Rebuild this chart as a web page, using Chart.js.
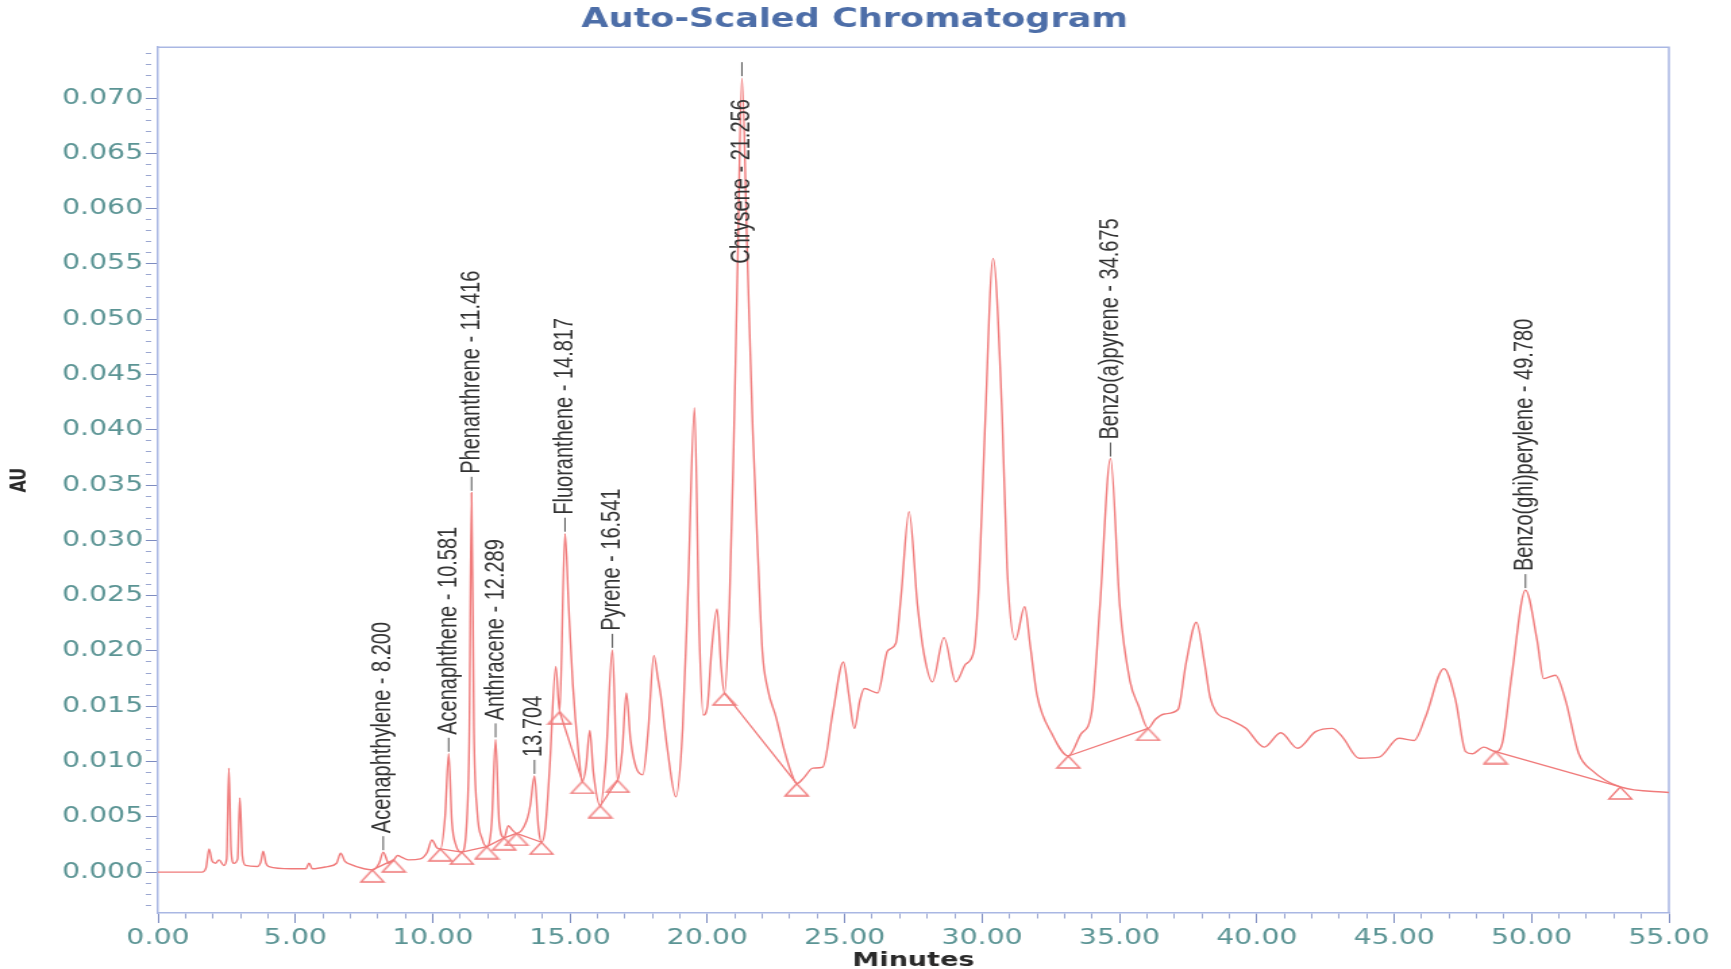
<!DOCTYPE html>
<html>
<head>
<meta charset="utf-8">
<title>Auto-Scaled Chromatogram</title>
<script src="https://cdn.jsdelivr.net/npm/chart.js@4.4.1/dist/chart.umd.min.js"></script>
<style>
  html, body { margin: 0; padding: 0; background: #fff; overflow: hidden; }
</style>
</head>
<body>
<!-- the printout is stretched sideways, so the canvas is drawn narrow and shown wide -->
<canvas id="chart" width="1282" height="969" style="display:block;width:1731px;height:969px"></canvas>
<script>
// retention time (minutes) and absorbance (AU)
const times = [0, 1.6, 1.75, 1.86, 1.97, 2.09, 2.22, 2.4, 2.5, 2.58, 2.66, 2.76, 2.9, 2.98, 3.07, 3.19, 3.61, 3.74, 3.83, 3.93,
  4.04, 4.83, 5.38, 5.5, 5.62, 6.17, 6.5, 6.65, 6.8, 7.01, 7.5, 7.8, 8.05, 8.2, 8.4, 8.58, 8.72, 8.9, 9.13, 9.55,
  9.8, 9.97, 10.15, 10.28, 10.45, 10.581, 10.7, 10.85, 11.06, 11.25, 11.33, 11.416, 11.5, 11.62, 11.8, 11.97, 12.15, 12.289, 12.42, 12.6,
  12.75, 12.9, 13.05, 13.41, 13.55, 13.704, 13.85, 13.96, 14.1, 14.26, 14.48, 14.62, 14.817, 14.95, 15.1, 15.3, 15.45, 15.58, 15.72, 15.85,
  16.1, 16.3, 16.541, 16.73, 16.9, 17.05, 17.2, 17.4, 17.65, 17.85, 18.05, 18.2, 18.3, 18.55, 18.85, 19.1, 19.3, 19.53, 19.7, 19.85,
  20.0, 20.15, 20.35, 20.5, 20.62, 20.8, 20.95, 21.1, 21.256, 21.45, 21.65, 21.85, 22.0, 22.2, 22.5, 22.8, 23.05, 23.25, 23.5, 23.84,
  24.2, 24.57, 24.95, 25.15, 25.35, 25.55, 25.71, 26.2, 26.56, 26.86, 27.05, 27.34, 27.65, 27.9, 28.19, 28.61, 29.04, 29.4, 29.7, 29.88,
  30.1, 30.4, 30.73, 30.91, 31.21, 31.55, 31.75, 32.0, 32.54, 33.14, 33.6, 33.99, 34.29, 34.675, 35.01, 35.38, 35.7, 36.04, 36.3, 36.64,
  37.13, 37.43, 37.8, 38.09, 38.3, 38.51, 39.0, 39.6, 40.27, 40.87, 41.48, 42.14, 42.75, 43.12, 43.72, 44.45, 45.17, 45.72, 46.15, 46.81,
  47.23, 47.6, 47.84, 48.26, 48.69, 48.93, 49.29, 49.78, 50.2, 50.44, 50.87, 51.23, 51.72, 52.2, 53.23, 55];
const absorb = [0, 0, 0.0004, 0.0021, 0.0010, 0.0008, 0.0011, 0.0006, 0.0012, 0.0094, 0.0020, 0.0008, 0.0012, 0.0067, 0.0015, 0.0006, 0.0005, 0.0009, 0.0019, 0.0008,
  0.0005, 0.0003, 0.0003, 0.0008, 0.0003, 0.0005, 0.0008, 0.0017, 0.0010, 0.0007, 0.0003, 0.0002, 0.0008, 0.0018, 0.0008, 0.0011, 0.0015, 0.0013, 0.0011, 0.0012,
  0.0018, 0.0029, 0.0022, 0.0021, 0.0050, 0.0107, 0.0045, 0.0024, 0.0018, 0.0050, 0.0120, 0.0343, 0.0130, 0.0055, 0.0030, 0.0023, 0.0045, 0.0120, 0.0045, 0.0031,
  0.0042, 0.0038, 0.0035, 0.0046, 0.0060, 0.0087, 0.0040, 0.0027, 0.0040, 0.0095, 0.0186, 0.0145, 0.0306, 0.0240, 0.0170, 0.0110, 0.0082, 0.0095, 0.0128, 0.0090,
  0.0060, 0.0100, 0.0201, 0.0083, 0.0110, 0.0162, 0.0120, 0.0095, 0.0088, 0.0130, 0.0196, 0.0175, 0.0160, 0.0110, 0.0068, 0.0130, 0.0260, 0.0420, 0.0220, 0.0142,
  0.0150, 0.0200, 0.0238, 0.0185, 0.0162, 0.0240, 0.0380, 0.0550, 0.0718, 0.0560, 0.0400, 0.0280, 0.0200, 0.0165, 0.0140, 0.0110, 0.0090, 0.0080, 0.0085, 0.0094,
  0.0095, 0.0145, 0.0190, 0.0160, 0.0130, 0.0155, 0.0166, 0.0162, 0.0200, 0.0207, 0.0250, 0.0326, 0.0241, 0.0195, 0.0172, 0.0212, 0.0172, 0.0188, 0.0200, 0.0258,
  0.0400, 0.0555, 0.0412, 0.0275, 0.0210, 0.0240, 0.0205, 0.0160, 0.0125, 0.0105, 0.0125, 0.0145, 0.0241, 0.0374, 0.0241, 0.0173, 0.0150, 0.0130, 0.0138, 0.0143,
  0.0147, 0.0190, 0.0226, 0.0190, 0.0158, 0.0145, 0.0138, 0.0130, 0.0113, 0.0126, 0.0112, 0.0127, 0.0130, 0.0122, 0.0103, 0.0104, 0.0121, 0.0119, 0.0141, 0.0184,
  0.0156, 0.0109, 0.0107, 0.0113, 0.0109, 0.0116, 0.0180, 0.0255, 0.0210, 0.0175, 0.0178, 0.0156, 0.0107, 0.0092, 0.0077, 0.0072];

// integration marks (peak start / end) and the marks that are joined to the next one by a baseline
const markTimes = [7.8, 8.58, 10.28, 11.06, 11.97, 12.6, 13.05, 13.96, 14.62, 15.45, 16.1, 16.73, 20.62, 23.25, 33.14, 36.04, 48.69, 53.23];
const markAbs = [0.0002, 0.0011, 0.0021, 0.0018, 0.0023, 0.0031, 0.0035, 0.0027, 0.0145, 0.0082, 0.0060, 0.0083, 0.0162, 0.0080, 0.0105, 0.0130, 0.0109, 0.0077];
const baseLinks = [0, 2, 3, 4, 5, 6, 8, 10, 12, 14, 16];

// named peaks
const peakNames = ['Acenaphthylene - 8.200', 'Acenaphthene - 10.581', 'Phenanthrene - 11.416', 'Anthracene - 12.289', '13.704',
  'Fluoranthene - 14.817', 'Pyrene - 16.541', 'Chrysene - 21.256', 'Benzo(a)pyrene - 34.675', 'Benzo(ghi)perylene - 49.780'];
const peakTimes = [8.2, 10.581, 11.416, 12.289, 13.704, 14.817, 16.541, 21.256, 34.675, 49.78];
const peakAbs = [0.0018, 0.0107, 0.0343, 0.0120, 0.0087, 0.0306, 0.0201, 0.0718, 0.0374, 0.0255];

const RED = '#f07a7a';
const TICK_TEXT = '#5b9494';
const FRAME = '#a9b7e3';

function makeTriangle() {
  // apex sits on the canvas centre, so it lands on the data point
  const c = document.createElement('canvas');
  c.width = 20; c.height = 26;
  const g = c.getContext('2d');
  g.strokeStyle = RED;
  g.lineWidth = 1.3;
  g.beginPath();
  g.moveTo(10, 13); g.lineTo(1.5, 25); g.lineTo(18.5, 25);
  g.closePath();
  g.stroke();
  return c;
}

const trace = times.map((t, i) => ({x: t, y: absorb[i]}));
const marks = markTimes.map((t, i) => ({x: t, y: markAbs[i]}));
const baseline = [];
baseLinks.forEach(i => {
  baseline.push(marks[i], marks[i + 1], {x: markTimes[i + 1], y: null});
});

const frame = {
  id: 'frame',
  beforeDatasetsDraw(chart) {
    const {ctx, chartArea: a} = chart;
    ctx.save();
    ctx.strokeStyle = FRAME;
    ctx.lineWidth = 1.5;
    ctx.beginPath();
    ctx.moveTo(a.left, a.top);
    ctx.lineTo(a.right, a.top);
    ctx.lineTo(a.right, a.bottom);
    ctx.stroke();
    ctx.restore();
  }
};

const peakLabels = {
  id: 'peakLabels',
  afterDatasetsDraw(chart) {
    const {ctx, chartArea, scales: {x, y}} = chart;
    ctx.save();
    ctx.font = '20px "Liberation Sans", Arial, sans-serif';
    ctx.fillStyle = '#333';
    ctx.strokeStyle = '#555';
    ctx.lineWidth = 1;
    peakNames.forEach((name, i) => {
      const px = x.getPixelForValue(peakTimes[i]);
      const py = y.getPixelForValue(peakAbs[i]);
      ctx.beginPath();
      ctx.moveTo(px, py - 2);
      ctx.lineTo(px, py - 16);
      ctx.stroke();
      const len = ctx.measureText(name).width;
      let start = py - 19;
      // no room above the apex: drop the label down into the plot, like the data system does
      if (start - len < chartArea.top + 6) start = chartArea.top + 52 + len;
      ctx.save();
      ctx.translate(px, start);
      ctx.rotate(-Math.PI / 2);
      ctx.textAlign = 'left';
      ctx.textBaseline = 'middle';
      ctx.fillText(name, 0, 0);
      ctx.restore();
    });
    ctx.restore();
  }
};

const isMajorX = v => Math.round(v) % 5 === 0;
const isMajorY = v => Math.round(v * 1000) % 5 === 0;

new Chart(document.getElementById('chart'), {
  type: 'line',
  data: {
    datasets: [
      {
        data: trace,
        borderColor: RED,
        borderWidth: 1.4,
        pointRadius: 0,
        fill: false,
        cubicInterpolationMode: 'monotone'
      },
      {
        data: marks,
        showLine: false,
        pointStyle: makeTriangle(),
        pointRadius: 10,
        borderColor: RED
      },
      {
        data: baseline,
        borderColor: RED,
        borderWidth: 1.3,
        pointRadius: 0,
        tension: 0,
        spanGaps: false
      }
    ]
  },
  options: {
    responsive: false,
    animation: false,
    devicePixelRatio: 1,
    layout: { padding: { left: 0, right: 16, top: 0, bottom: 0 } },
    plugins: {
      legend: { display: false },
      tooltip: { enabled: false },
      title: {
        display: true,
        text: 'Auto-Scaled Chromatogram',
        color: '#4d6ea8',
        font: { family: 'DejaVu Sans', size: 26, weight: 'bold' },
        padding: { top: 5, bottom: 11 }
      }
    },
    scales: {
      x: {
        type: 'linear',
        min: 0,
        max: 55,
        afterFit: s => { s.height = 56; s.paddingRight = 46; },
        border: { display: true, color: FRAME, width: 1.5 },
        grid: {
          display: true,
          drawOnChartArea: false,
          drawTicks: true,
          tickLength: 10,
          tickColor: c => isMajorX(c.tick.value) ? '#7d8cc0' : '#9aa6d0',
          tickBorderDash: c => isMajorX(c.tick.value) ? [] : [5, 100]
        },
        ticks: {
          stepSize: 1,
          autoSkip: false,
          maxRotation: 0,
          maxTicksLimit: 1000,
          padding: 3,
          color: TICK_TEXT,
          font: { family: 'DejaVu Sans', size: 21 },
          callback: v => isMajorX(v) ? Number(v).toFixed(2) : ''
        },
        title: {
          display: true,
          text: 'Minutes',
          color: '#2a2a2a',
          font: { family: 'DejaVu Sans', size: 20, weight: 'bold' },
          padding: { top: 0, bottom: -4 }
        }
      },
      y: {
        type: 'linear',
        min: -0.0037,
        max: 0.0746,
        afterFit: s => { s.width = 117; },
        border: { display: true, color: FRAME, width: 1.5 },
        grid: {
          display: true,
          drawOnChartArea: false,
          drawTicks: true,
          tickLength: 9,
          tickColor: c => isMajorY(c.tick.value) ? '#7d8cc0' : '#9aa6d0',
          tickBorderDash: c => isMajorY(c.tick.value) ? [] : [4, 100]
        },
        ticks: {
          stepSize: 0.001,
          includeBounds: false,
          autoSkip: false,
          maxTicksLimit: 1000,
          padding: 2,
          color: TICK_TEXT,
          font: { family: 'DejaVu Sans', size: 21 },
          callback: v => isMajorY(v) ? Number(v).toFixed(3) : ''
        },
        title: {
          display: true,
          text: 'AU',
          color: '#2a2a2a',
          font: { family: 'DejaVu Sans', size: 16, weight: 'bold' },
          padding: { top: 5, bottom: 0 }
        }
      }
    }
  },
  plugins: [frame, peakLabels]
});
</script>
</body>
</html>
